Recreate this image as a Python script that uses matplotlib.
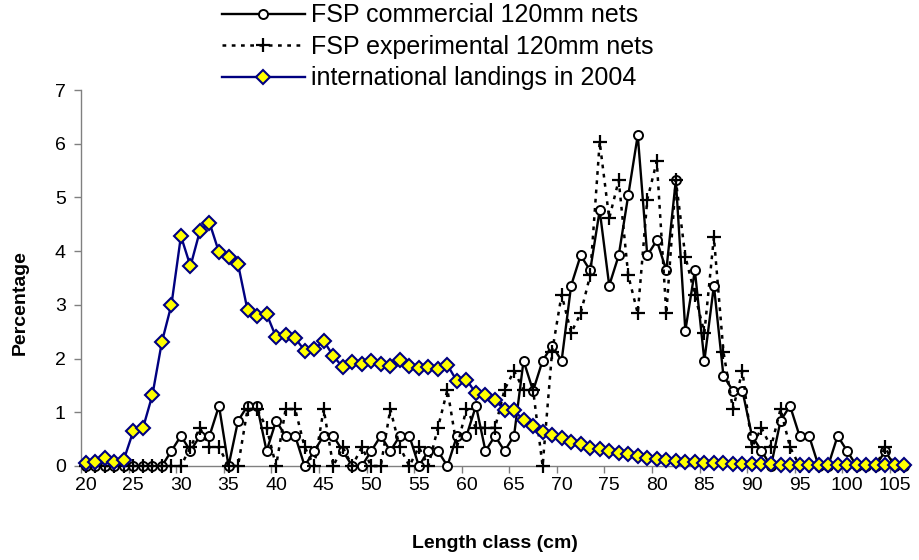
import matplotlib
matplotlib.use("Agg")
import matplotlib.pyplot as plt
import numpy as np

plt.rcParams["font.family"] = ["Liberation Sans", "DejaVu Sans"]

# Length classes (cm), one value per 1 cm class
length_class = list(range(20, 107))

commercial = [
    0, 0, 0, 0, 0, 0, 0, 0, 0, 0.28,          # 20-29
    0.56, 0.28, 0.56, 0.56, 1.12, 0, 0.84, 1.12, 1.12, 0.28,   # 30-39
    0.84, 0.56, 0.56, 0, 0.28, 0.56, 0.56, 0.28, 0, 0,         # 40-49
    0.28, 0.56, 0.28, 0.56, 0.56, 0, 0.28, 0.28, 0, 0.56,      # 50-59
    0.56, 1.12, 0.28, 0.56, 0.28, 0.56, 1.96, 1.40, 1.96, 2.24,  # 60-69
    1.96, 3.36, 3.92, 3.64, 4.76, 3.36, 3.92, 5.04, 6.16, 3.92,  # 70-79
    4.20, 3.64, 5.32, 2.52, 3.64, 1.96, 3.36, 1.68, 1.40, 1.40,  # 80-89
    0.56, 0.28, 0, 0.84, 1.12, 0.56, 0.56, 0, 0, 0.56,           # 90-99
    0.28, 0, 0, 0, 0.28, 0, 0,                                   # 100-106
]

experimental = [
    0, 0, 0, 0, 0, 0, 0, 0, 0, 0,                                # 20-29
    0, 0.35, 0.71, 0.35, 0.35, 0, 0, 1.06, 1.06, 0.71,           # 30-39
    0, 1.06, 1.06, 0.35, 0, 1.06, 0, 0.35, 0, 0.35,              # 40-49
    0, 0, 1.06, 0.35, 0, 0.35, 0, 0.71, 1.42, 0.35,              # 50-59
    1.06, 0.71, 0.71, 0.71, 1.42, 1.77, 1.42, 1.42, 0, 2.13,     # 60-69
    3.19, 2.48, 2.84, 3.55, 6.03, 4.61, 5.32, 3.55, 2.84, 4.96,  # 70-79
    5.67, 2.84, 5.32, 3.90, 3.19, 2.48, 4.26, 2.13, 1.06, 1.77,  # 80-89
    0.35, 0.71, 0.35, 1.06, 0.35, 0, 0, 0, 0, 0,                # 90-99
    0, 0, 0, 0, 0.35, 0, 0,                                      # 100-106
]

landings_2004 = [
    0.05, 0.08, 0.15, 0.08, 0.12, 0.65, 0.70, 1.32, 2.31, 3.00,  # 20-29
    4.28, 3.72, 4.38, 4.53, 3.98, 3.90, 3.76, 2.90, 2.79, 2.83,  # 30-39
    2.40, 2.43, 2.38, 2.15, 2.17, 2.33, 2.05, 1.84, 1.94, 1.90,  # 40-49
    1.96, 1.90, 1.86, 1.98, 1.86, 1.82, 1.84, 1.81, 1.88, 1.58,  # 50-59
    1.61, 1.35, 1.33, 1.22, 1.05, 1.04, 0.85, 0.75, 0.64, 0.58,  # 60-69
    0.53, 0.45, 0.41, 0.34, 0.32, 0.28, 0.24, 0.22, 0.18, 0.15,  # 70-79
    0.13, 0.11, 0.10, 0.08, 0.07, 0.06, 0.05, 0.05, 0.04, 0.04,  # 80-89
    0.03, 0.03, 0.03, 0.02, 0.02, 0.02, 0.02, 0.02, 0.01, 0.01,  # 90-99
    0.01, 0.01, 0.01, 0.01, 0.01, 0.01, 0.01,                    # 100-106
]

series_labels = [
    "FSP commercial 120mm nets",
    "FSP experimental 120mm nets",
    "international landings in 2004",
]

x_tick_labels = list(range(20, 106, 5))
y_tick_labels = list(range(0, 8))

fig = plt.figure(figsize=(9.19, 5.60), dpi=100)
ax = fig.add_axes([81 / 919, 1 - 466 / 560, (909 - 81) / 919, (466 - 90) / 560])

ax.plot(length_class, commercial, color="black", lw=1.7, marker="o",
        ms=6.5, mfc="white", mec="black", mew=1.4, zorder=3, clip_on=False,
        label=series_labels[0])
ax.plot(length_class, experimental, color="black", lw=1.8,
        linestyle=(0, (1.5, 2.2)), marker="+", ms=10, mew=1.6,
        mec="black", zorder=4, clip_on=False, label=series_labels[1])
ax.plot(length_class, landings_2004, color="#000080", lw=1.7, marker="D",
        ms=7, mfc="#FFFF00", mec="#000080", mew=1.5, zorder=5,
        clip_on=False, label=series_labels[2])

ax.set_xlim(19.5, 106.5)
ax.set_ylim(0, 7)

# Category-style axis: labels centred on classes, tick marks between them
ax.set_xticks(x_tick_labels)
ax.set_xticklabels([str(v) for v in x_tick_labels])
ax.set_xticks(np.arange(19.5, 106, 5), minor=True)
ax.tick_params(axis="x", which="major", length=0, pad=8, labelsize=14)
ax.tick_params(axis="x", which="minor", length=5, width=1, color="#808080")
ax.set_yticks(y_tick_labels)
ax.tick_params(axis="y", which="major", length=5, width=1, color="#808080",
               labelsize=14, pad=6)

for side in ("top", "right"):
    ax.spines[side].set_visible(False)
for side in ("left", "bottom"):
    ax.spines[side].set_color("#808080")
    ax.spines[side].set_linewidth(1.0)

ax.set_xlabel("Length class (cm)", fontsize=14, fontweight="bold")
ax.xaxis.set_label_coords(0.50, -0.183)
ax.set_ylabel("Percentage", fontsize=14, fontweight="bold")
ax.yaxis.set_label_coords(-0.063, 0.435)

fig.legend(loc="upper left", bbox_to_anchor=(212 / 919, 1.012), frameon=False,
           fontsize=18, handlelength=3.3, handletextpad=0.25,
           labelspacing=0.3, numpoints=1, borderaxespad=0.0)

fig.savefig("out.png", dpi=100)
